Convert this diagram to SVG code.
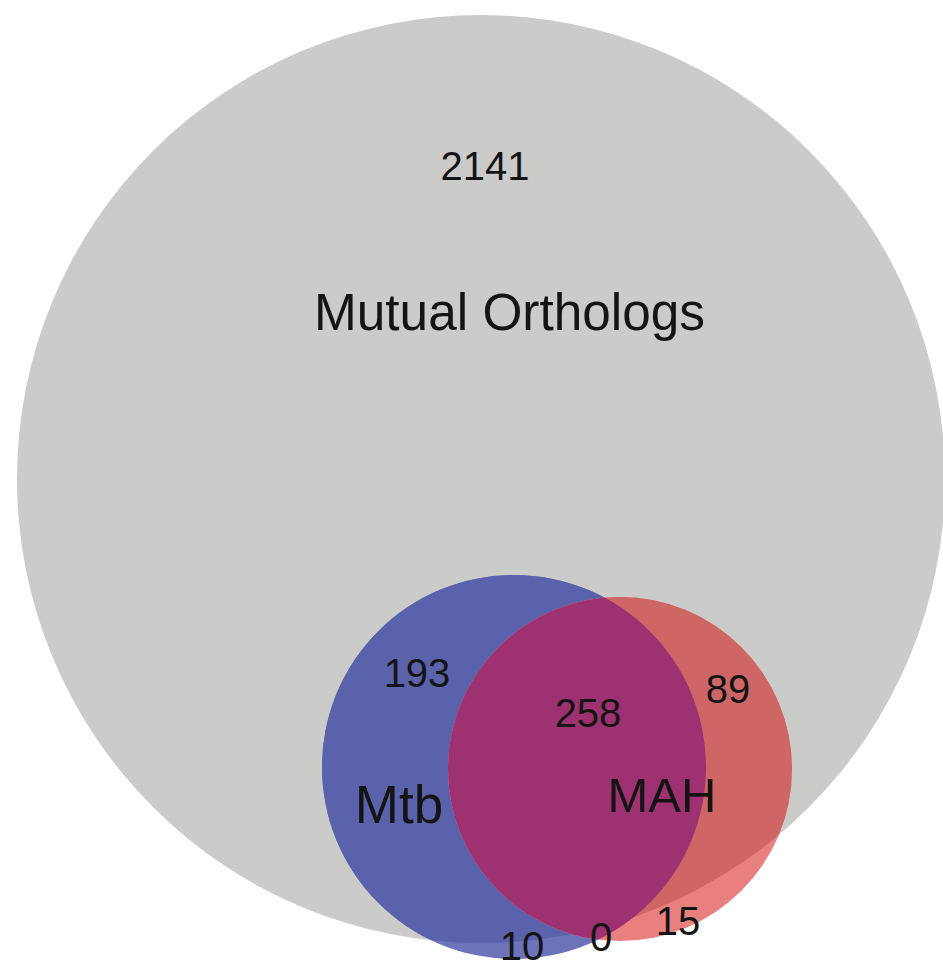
<svg xmlns="http://www.w3.org/2000/svg" width="943" height="960" viewBox="0 0 943 960">
  <style>
    .lbl { font-family: "Liberation Sans", Arial, Helvetica, sans-serif; fill: #141414; }
    .num { font-size: 40px; }
  </style>
  <defs>
    <clipPath id="clipGray"><circle cx="481" cy="479" r="464"/></clipPath>
    <clipPath id="clipBlue"><circle cx="514" cy="767" r="192"/></clipPath>
  </defs>
  <rect x="0" y="0" width="943" height="960" fill="#ffffff"/>
  <g id="mutual">
    <circle cx="481" cy="479" r="464" fill="#cbcbca"/>
    <text class="lbl num" x="485" y="180" text-anchor="middle">2141</text>
    <text class="lbl" x="314" y="330" font-size="51" textLength="391" lengthAdjust="spacingAndGlyphs">Mutual Orthologs</text>
  </g>
  <g id="mtb">
    <circle cx="514" cy="767" r="192" fill="#6c73b9"/>
    <circle cx="514" cy="767" r="192" fill="#5a62ac" clip-path="url(#clipGray)"/>
  </g>
  <g id="mah">
    <circle cx="620" cy="769" r="172" fill="#e98080"/>
    <circle cx="620" cy="769" r="172" fill="#cd6664" clip-path="url(#clipGray)"/>
    <circle cx="620" cy="769" r="172" fill="#9d3171" clip-path="url(#clipBlue)"/>
  </g>
  <g id="labels">
    <text class="lbl num" x="417" y="687" text-anchor="middle">193</text>
    <text class="lbl num" x="588" y="727" text-anchor="middle">258</text>
    <text class="lbl num" x="728" y="703" text-anchor="middle">89</text>
    <text class="lbl num" x="522" y="960" text-anchor="middle">10</text>
    <text class="lbl num" x="601" y="951" text-anchor="middle">0</text>
    <text class="lbl num" x="678" y="935" text-anchor="middle">15</text>
    <text class="lbl" x="399" y="823" font-size="53" text-anchor="middle">Mtb</text>
    <text class="lbl" x="662" y="812" font-size="49" text-anchor="middle">MAH</text>
  </g>
  <g id="connectors"/>
</svg>
